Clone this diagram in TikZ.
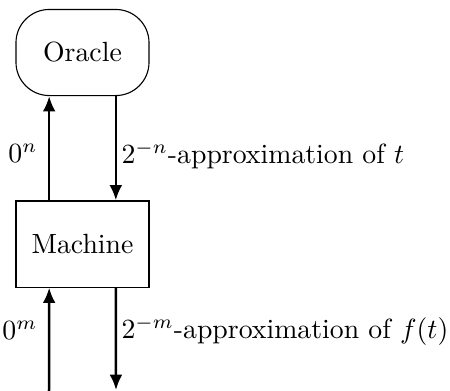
\documentclass[tikz,border=0pt]{standalone}
\usetikzlibrary{arrows.meta}
\begin{document}
\begin{tikzpicture}[x=0.36pt,y=-0.36pt,
  box/.style={draw, minimum width=47.9pt, minimum height=31pt, inner sep=0pt},
  arr/.style={line width=0.9pt, -{Latex[length=5.5pt,width=4.6pt]}},
  lbl/.style={inner sep=0pt}]
\useasboundingbox (0,0) rectangle (450,390);
\node[box, rounded corners=12pt] (O) at (82.5,52.5) {Oracle};
\node[box] (M) at (82.5,244) {Machine};
\coordinate (inb) at (49,391);
\coordinate (outb) at (116,390);
\draw[arr] ([xshift=-12pt]M.north) -- ([xshift=-12pt]O.south);
\draw[arr] ([xshift=12pt]O.south) -- ([xshift=12pt]M.north);
\draw[arr] (inb) -- ([xshift=-12pt]M.south);
\draw[arr] ([xshift=12pt]M.south) -- (outb);
\node[lbl, anchor=east] (ln) at (38,153) {$0^n$};
\node[lbl, anchor=west] (rn) at (121,155) {$2^{-n}$-approximation of $t$};
\node[lbl, anchor=east] (lm) at (38,330) {$0^m$};
\node[lbl, anchor=west] (rm) at (121,331) {$2^{-m}$-approximation of $f(t)$};
\end{tikzpicture}
\end{document}
